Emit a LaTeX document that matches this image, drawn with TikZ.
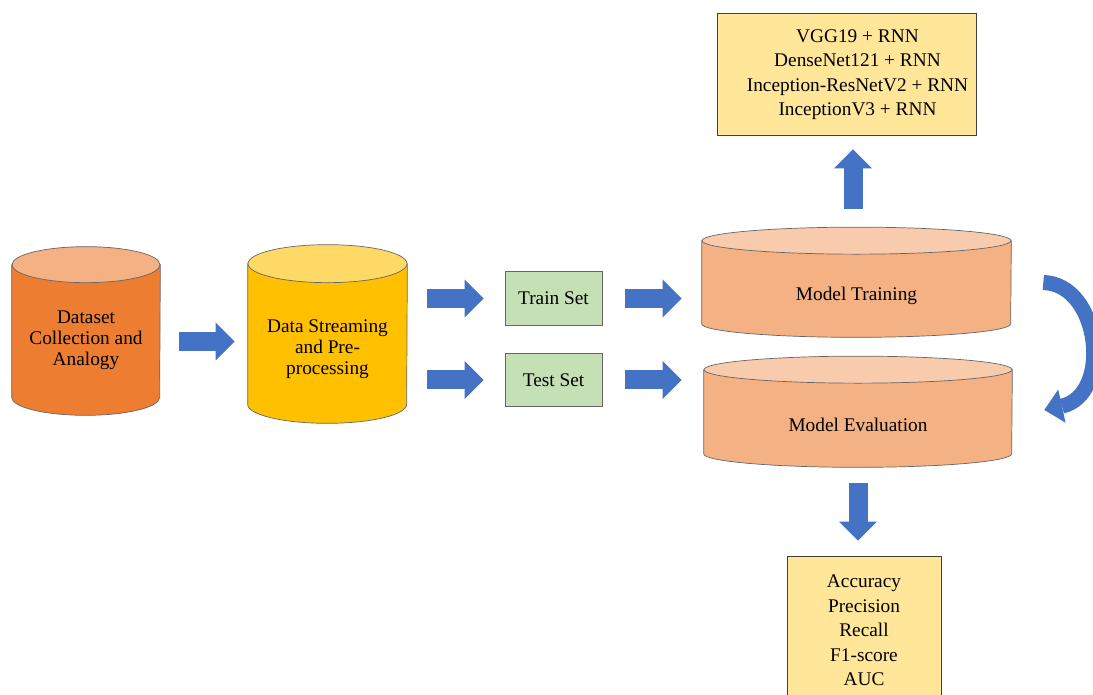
\documentclass[tikz,border=0pt]{standalone}
\usepackage{fontspec}
\setmainfont{Liberation Serif}
\usetikzlibrary{arrows.meta,calc,positioning,backgrounds}
\definecolor{CollectClr}{HTML}{ED7D31}
\definecolor{CollectTopClr}{HTML}{F4B183}
\definecolor{StreamClr}{HTML}{FFC000}
\definecolor{StreamTopClr}{HTML}{FFD966}
\definecolor{ModelClr}{HTML}{F4B183}
\definecolor{ModelTopClr}{HTML}{F8CBAD}
\definecolor{SetClr}{HTML}{C5E0B4}
\definecolor{ListClr}{HTML}{FFE699}
\definecolor{ArrowClr}{HTML}{4472C4}
\definecolor{LineClr}{HTML}{404040}

\newcommand{\DrawCyl}[5]{%
  \draw[cylline,fill=#4] (#1.north west) -- ($(#1.south west)+(0,#3)$)
    arc[start angle=180,end angle=360,x radius=#2,y radius=#3] -- (#1.north east) -- cycle;
  \draw[cylline,fill=#5] (#1.north) ellipse[x radius=#2,y radius=#3];
}

\begin{document}
\begin{tikzpicture}[x=0.02cm,y=0.02cm,
  cylline/.style={draw=LineClr!80,line width=0.4pt},
  cylnode/.style={inner sep=0pt,align=center,font=\fontsize{11}{12}\selectfont},
  setbox/.style={draw=LineClr!80,fill=SetClr,inner sep=0pt,minimum width=1.94cm,minimum height=1.07cm,font=\fontsize{11}{12}\selectfont},
  listbox/.style={draw=LineClr,fill=ListClr,inner sep=0pt,align=center,font=\fontsize{11}{14}\selectfont},
  blockarrow/.style={ArrowClr,line width=0.38cm,-{Triangle[length=0.38cm,width=0.76cm,line width=0pt]}}]
\useasboundingbox (0,0) rectangle (1093,-695);

\node[cylnode,minimum width=2.96cm,minimum height=3cm] (collect) at (86,-340) {Dataset\\Collection and\\Analogy};
\node[cylnode,minimum width=3.18cm,minimum height=3.18cm,text height=37.5pt] (stream) at (327.5,-343.5) {Data Streaming\\and Pre-\\processing};
\node[setbox] (train) at (553.5,-298.5) {Train Set};
\node[setbox] (test) at (553.5,-380) {Test Set};
\node[cylnode,minimum width=6.18cm,minimum height=1.92cm,text height=15pt] (training) at (856.5,-289) {Model Training};
\node[cylnode,minimum width=6.16cm,minimum height=1.94cm,text height=15pt] (evaluation) at (858,-418.5) {Model Evaluation};
\node[listbox,minimum width=5.18cm,minimum height=2.44cm] (models) at (846.5,-74) {\hspace*{0.44cm}\begin{tabular}{@{}c@{}}VGG19 + RNN\\DenseNet121 + RNN\\Inception-ResNetV2 + RNN\\InceptionV3 + RNN\end{tabular}};
\node[listbox,minimum width=3.08cm,minimum height=2.98cm] (metrics) at (864,-630.5) {Accuracy\\Precision\\Recall\\F1-score\\AUC};

\begin{scope}[on background layer]
\DrawCyl{collect}{74}{18}{CollectClr}{CollectTopClr}
\DrawCyl{stream}{79.5}{19}{StreamClr}{StreamTopClr}
\DrawCyl{training}{154.5}{13.5}{ModelClr}{ModelTopClr}
\DrawCyl{evaluation}{154}{13.5}{ModelClr}{ModelTopClr}
\end{scope}

\draw[blockarrow] ($(collect.east)+(19,-1.5)$) -- ($(stream.west)+(-13,2)$);
\draw[blockarrow] ([xshift=0.4cm]stream.east |- train.west) -- ([xshift=-0.42cm]train.west);
\draw[blockarrow] ([xshift=0.4cm]stream.east |- test.west) -- ([xshift=-0.42cm]test.west);
\draw[blockarrow] ([xshift=0.46cm]train.east) -- ([xshift=-0.4cm]train.east -| training.west);
\draw[blockarrow] ([xshift=0.46cm]test.east) -- ([xshift=-0.44cm]test.east -| evaluation.west);
\draw[blockarrow] ([xshift=-0.07cm,yshift=0.64cm]training.north) -- ([xshift=-0.07cm,yshift=-0.28cm]training.north |- models.south);
\draw[blockarrow] ([yshift=-0.32cm]evaluation.south) -- ([yshift=0.3cm]evaluation.south |- metrics.north);

\draw[ArrowClr,line width=0.3cm,-{Triangle[length=0.36cm,width=0.68cm,line width=0pt]}]
  ($(training.east)+(32,6.5)$) .. controls ($(training.east)+(89,5)$) and ($(evaluation.east)+(100,23.5)$) .. ($(evaluation.east)+(32,8.5)$);

\end{tikzpicture}
\end{document}
